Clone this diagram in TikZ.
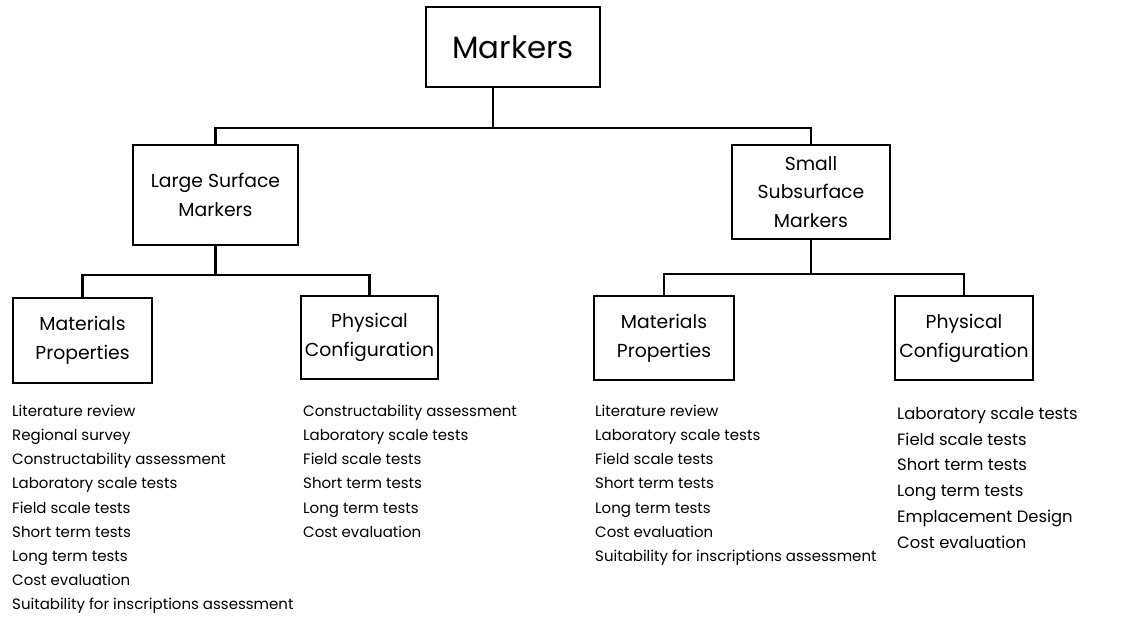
\documentclass[tikz,border=0pt]{standalone}
\usepackage{fontspec}
\setmainfont{Poppins}
\usetikzlibrary{positioning}
\tikzset{box/.style={draw, line width=2.5pt, align=center, inner sep=0pt, font=\fontsize{18.8}{28.8}\selectfont},
  tasks/.style={align=left, anchor=north west, inner sep=0pt, font=\fontsize{15}{24.1}\selectfont},
  link/.style={line width=2.5pt}}

\begin{document}
\begin{tikzpicture}[x=1pt, y=1pt]
    \useasboundingbox (0,0) rectangle (1124,-616);
    \node[box, minimum width=174pt, minimum height=80pt, font=\fontsize{30.8}{36}\selectfont] (markers) at (513,-47) {Markers};
    \node[box, minimum width=165pt, minimum height=100pt] (large) at (215.5,-195) {Large Surface\\Markers};
    \node[box, minimum width=158pt, minimum height=94pt] (small) at (811,-192) {Small\\Subsurface\\Markers};
    \node[box, minimum width=139pt, minimum height=85pt] (large-mat) at (82.5,-340.5) {Materials\\Properties};
    \node[box, minimum width=137pt, minimum height=83pt] (large-conf) at (369.5,-337.5) {Physical\\Configuration};
    \node[box, minimum width=140pt, minimum height=84pt] (small-mat) at (664,-338) {Materials\\Properties};
    \node[box, minimum width=138pt, minimum height=84pt] (small-conf) at (964,-338) {Physical\\Configuration};

    \coordinate (bar-top) at (493,-128);
    \coordinate (bar-large) at (large.south |- 0,-275);
    \coordinate (bar-small) at (small.south |- 0,-274);
    \draw[link] ([xshift=-20pt]markers.south) -- (bar-top);
    \draw[link] (large.north) |- (bar-top) -| (small.north);
    \draw[link] (large.south) -- (bar-large);
    \draw[link] (large-mat.north) |- (bar-large) -| (large-conf.north);
    \draw[link] (small.south) -- (bar-small);
    \draw[link] (small-mat.north) |- (bar-small) -| (small-conf.north);

    \node[tasks] (large-mat-tasks) at (12,-405) {Literature review\\Regional survey\\Constructability assessment\\Laboratory scale tests\\Field scale tests\\Short term tests\\Long term tests\\Cost evaluation\\Suitability for inscriptions assessment};
    \node[tasks] (large-conf-tasks) at (303,-405) {Constructability assessment\\Laboratory scale tests\\Field scale tests\\Short term tests\\Long term tests\\Cost evaluation};
    \node[tasks] (small-mat-tasks) at (595,-405) {Literature review\\Laboratory scale tests\\Field scale tests\\Short term tests\\Long term tests\\Cost evaluation\\Suitability for inscriptions assessment};
    \node[tasks, font=\fontsize{16.4}{25.8}\selectfont] (small-conf-tasks) at (897,-407) {Laboratory scale tests\\Field scale tests\\Short term tests\\Long term tests\\Emplacement Design\\Cost evaluation};
\end{tikzpicture}
\end{document}
